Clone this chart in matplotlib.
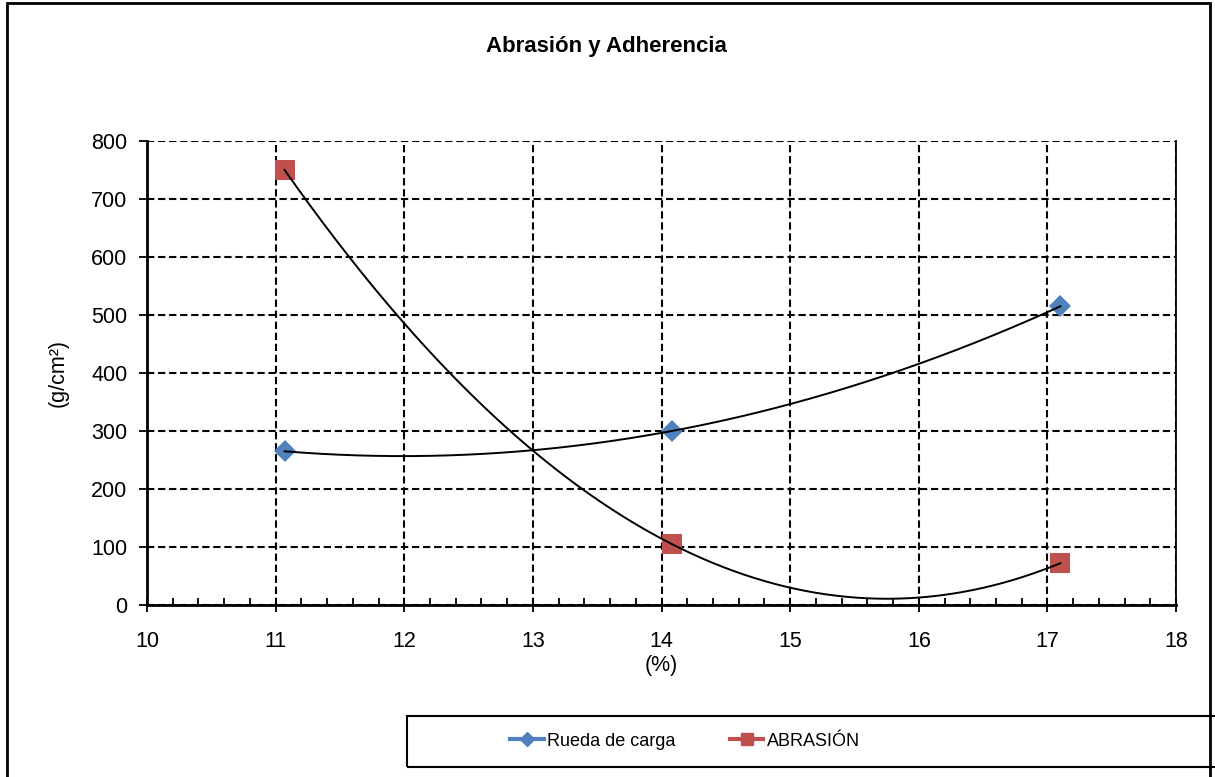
import matplotlib.pyplot as plt
import numpy as np
from matplotlib.patches import Rectangle
from matplotlib.lines import Line2D
from matplotlib.ticker import MultipleLocator

plt.rcParams['font.family'] = ['Liberation Sans', 'DejaVu Sans']

# porcentaje de asfalto (%) vs. resultados (g/cm2)
pct = [11.07, 14.08, 17.1]
rueda_carga = [265, 300, 515]
abrasion = [750, 105, 72]

blue = '#4F81BD'
red = '#C0504D'

fig = plt.figure(figsize=(12.15, 7.77), dpi=100)
ax = fig.add_axes([0.121, 0.2214, 0.847, 0.5971])

ax.plot(pct, rueda_carga, 'D', color=blue, markersize=11, markeredgewidth=0, zorder=3)
ax.plot(pct, abrasion, 's', color=red, markersize=14, markeredgewidth=0, zorder=3)

# polynomial trend lines (order 2), like the spreadsheet ones
x = np.linspace(min(pct), max(pct), 300)
for y in (rueda_carga, abrasion):
    fit = np.poly1d(np.polyfit(pct, y, 2))
    ax.plot(x, fit(x), color='black', lw=1.4, zorder=4)

ax.set_xlim(10, 18)
ax.set_ylim(0, 800)
ax.set_xticks(range(10, 19))
ax.set_yticks(range(0, 801, 100))
ax.xaxis.set_minor_locator(MultipleLocator(0.2))
ax.tick_params(axis='x', which='major', direction='inout', length=10, width=1.3, labelsize=15.5, pad=14)
ax.tick_params(axis='x', which='minor', direction='in', length=5, width=1.3)
ax.tick_params(axis='y', which='major', direction='out', length=6, width=1.3, labelsize=15.5, pad=8)
ax.grid(True, which='major', color='black', linestyle=(0, (3.5, 1.8)), lw=1.5)
ax.set_axisbelow(True)

for side in ('left', 'bottom'):
    ax.spines[side].set_linewidth(2)
ax.spines['top'].set_visible(False)
ax.spines['right'].set_linewidth(1.3)

ax.set_xlabel('(%)', fontsize=15.5, labelpad=2)
ax.set_ylabel('(g/cm²)', fontsize=15.5, labelpad=16)

fig.text(0.4995, 0.94, 'Abrasión y Adherencia', ha='center', va='center',
         fontsize=16, fontweight='bold')

# chart border
fig.add_artist(Rectangle((0.006, -0.01), 0.99, 1.006, transform=fig.transFigure,
                         fill=False, edgecolor='black', lw=2))

# legend box at the bottom
fig.add_artist(Rectangle((0.335, 0.013), 0.7, 0.066, transform=fig.transFigure,
                         fill=False, edgecolor='black', lw=1.5, clip_on=False))
handles = [Line2D([], [], color=blue, lw=3, marker='D', markersize=7),
           Line2D([], [], color=red, lw=3, marker='s', markersize=8)]
fig.legend(handles, ['Rueda de carga', 'ABRASIÓN'], loc='center left',
           bbox_to_anchor=(0.42, 0.046), ncol=2, frameon=False,
           fontsize=13, borderpad=0, borderaxespad=0,
           handlelength=1.85, handletextpad=0.2, columnspacing=3.0)

fig.savefig('out.png', dpi=100)
